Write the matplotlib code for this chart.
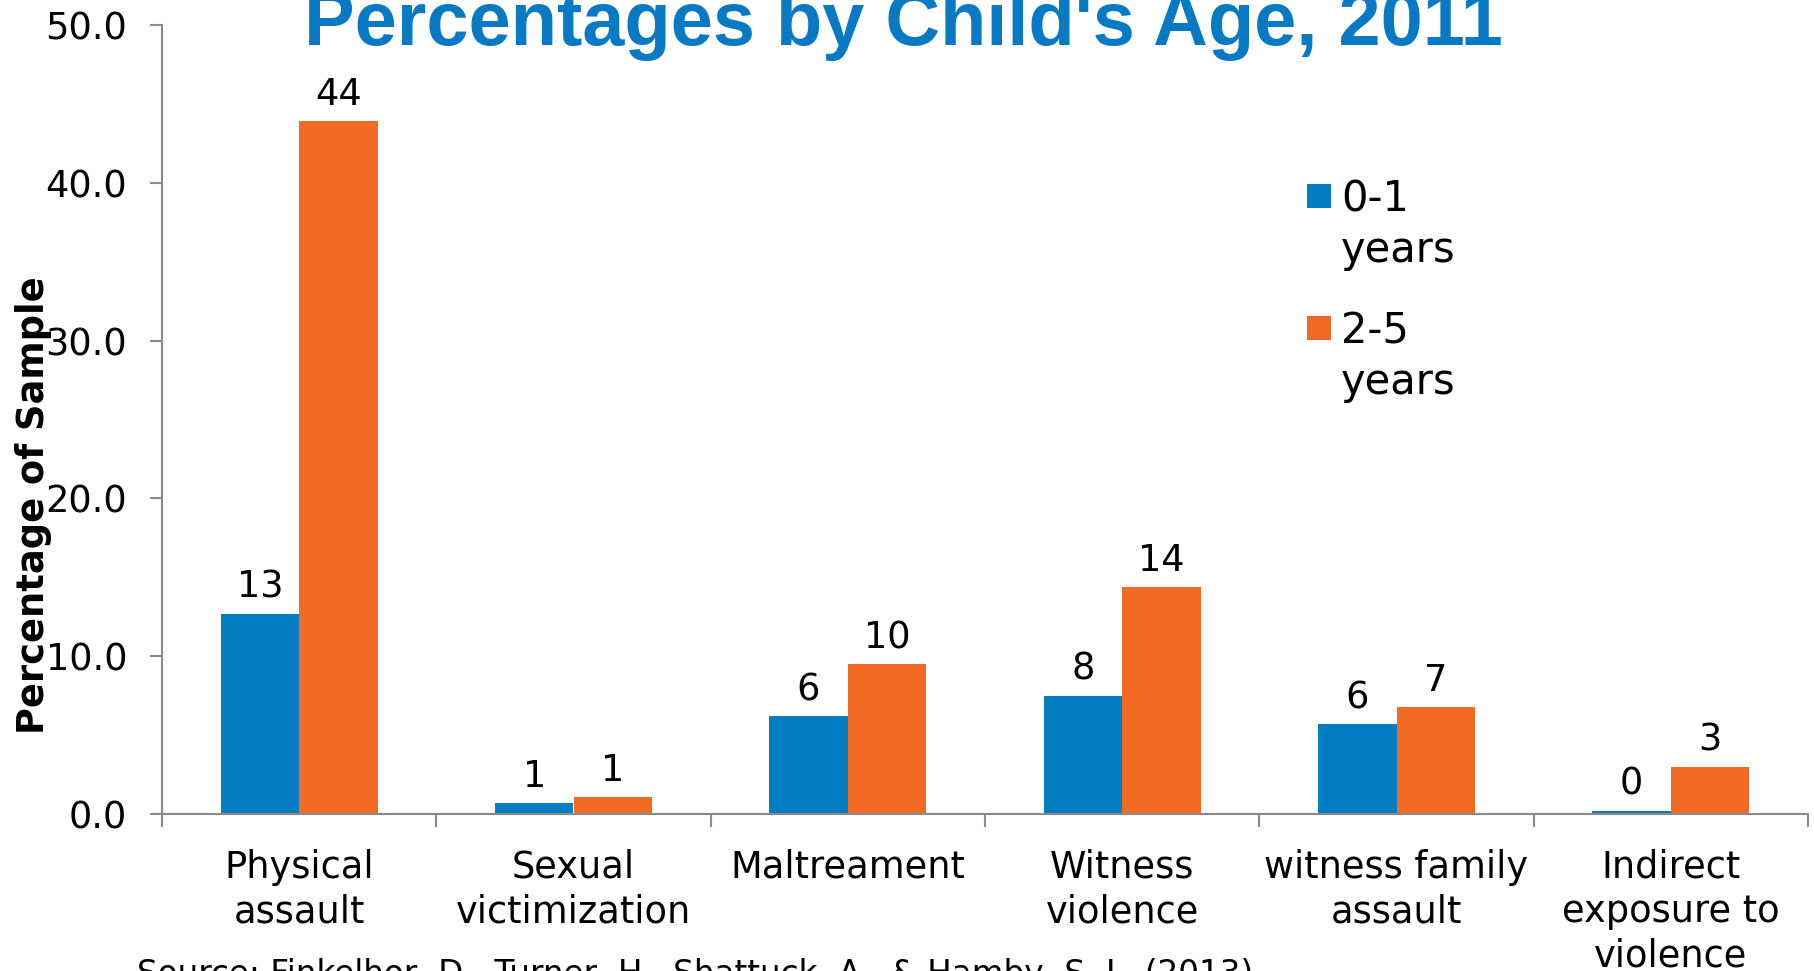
import matplotlib
matplotlib.use("Agg")
import matplotlib.pyplot as plt
import numpy as np
from matplotlib.patches import Rectangle
from matplotlib.ticker import FixedLocator, FormatStrFormatter

# ---- data -------------------------------------------------------------
categories = ["Physical\nassault", "Sexual\nvictimization", "Maltreament",
              "Witness\nviolence", "witness family\nassault",
              "Indirect\nexposure to\nviolence"]
series_names = ["0-1 years", "2-5 years"]
age_0_1 = [12.7, 0.7, 6.2, 7.5, 5.7, 0.2]
age_2_5 = [43.9, 1.1, 9.5, 14.4, 6.8, 3.0]
y_ticks = [0, 10, 20, 30, 40, 50]

title = "Percentages by Child's Age, 2011"
y_label = "Percentage of Sample"
source = "Source: Finkelhor, D., Turner, H., Shattuck, A., & Hamby, S. L. (2013)"

# ---- style ------------------------------------------------------------
BLUE = "#047DC2"
ORANGE = "#F26A24"
TITLE_BLUE = "#0879C3"
GREY = "#8A8A8A"
plt.rcParams["font.family"] = ["DejaVu Sans"]

W, H = 1814, 971
fig = plt.figure(figsize=(W / 100, H / 100), dpi=100)
fig.patch.set_facecolor("white")

def fx(px):
    return px / W

def fy(py):
    return 1 - py / H

ax = fig.add_axes([fx(162), fy(814), fx(1808 - 162), (814 - 25) / H])

x = np.arange(len(categories))
width = 0.286
bars_a = ax.bar(x - width / 2, age_0_1, width, color=BLUE, label=series_names[0])
bars_b = ax.bar(x + width / 2, age_2_5, width, color=ORANGE, label=series_names[1])

for bars, vals in ((bars_a, age_0_1), (bars_b, age_2_5)):
    for rect, v in zip(bars, vals):
        ax.annotate(f"{v:.0f}", (rect.get_x() + rect.get_width() / 2, v),
                    xytext=(0, 11.5), textcoords="offset points",
                    ha="center", va="baseline", fontsize=26.5, color="black")

ax.set_xlim(-0.5, len(categories) - 0.5)
ax.set_ylim(0, 50)

# axes frame
for side in ("top", "right"):
    ax.spines[side].set_visible(False)
for side in ("left", "bottom"):
    ax.spines[side].set_color(GREY)
    ax.spines[side].set_linewidth(1.5)

ax.set_yticks(y_ticks)
ax.yaxis.set_major_formatter(FormatStrFormatter("%.1f"))
ax.tick_params(axis="y", direction="out", length=8.6, width=1.5, color=GREY,
               pad=16.5, labelsize=26.5, labelcolor="black")

ax.set_xticks(x)
ax.set_xticklabels(categories, fontsize=26.5, linespacing=1.26)
ax.xaxis.set_minor_locator(FixedLocator(np.arange(-0.5, len(categories), 1.0)))
ax.tick_params(axis="x", which="major", length=0, pad=25)
ax.tick_params(axis="x", which="minor", direction="out", length=9.4, width=1.5,
               color=GREY)

# y-axis title
fig.text(fx(34), fy(505), y_label, rotation=90, ha="center", va="center",
         fontsize=26.5, fontweight="bold", color="black")

# chart title
fig.text(fx(903), fy(45), title, ha="center", va="baseline",
         fontsize=54.5, fontweight="bold", color=TITLE_BLUE,
         family=["Liberation Sans", "DejaVu Sans"])

# legend
for i, (name, col) in enumerate(zip(series_names, (BLUE, ORANGE))):
    dy = 132 * i
    fig.patches.append(Rectangle((fx(1307), fy(208 + dy)), 24 / W, 24 / H,
                                 transform=fig.transFigure, facecolor=col,
                                 edgecolor="none"))
    first, second = name.split(" ", 1)
    fig.text(fx(1341), fy(212 + dy), first, ha="left", va="baseline",
             fontsize=30, color="black")
    fig.text(fx(1341), fy(262 + dy), second, ha="left", va="baseline",
             fontsize=30, color="black")

# source note
fig.text(fx(137), fy(984), source, ha="left", va="baseline",
         fontsize=23.5, color="black")

fig.savefig("out.png", dpi=100, facecolor="white")
